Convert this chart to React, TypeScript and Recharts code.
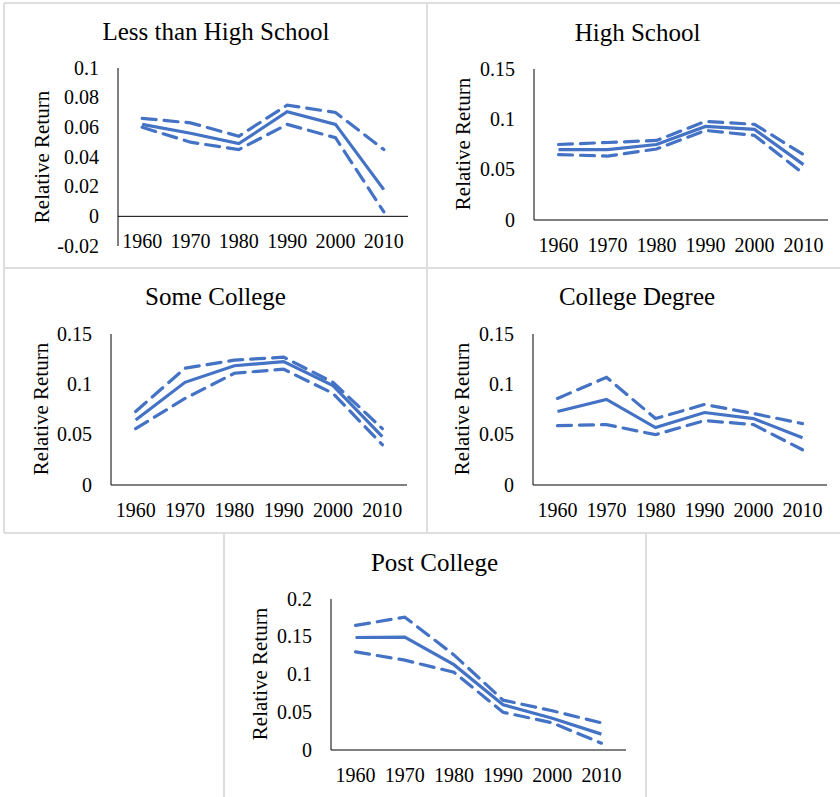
import { LineChart, Line, XAxis, YAxis, ReferenceLine } from 'recharts';

const years = ['1960', '1970', '1980', '1990', '2000', '2010'];

// Less than High School
const lhsEst = [0.062, 0.056, 0.049, 0.0705, 0.062, 0.018];
const lhsHi = [0.066, 0.063, 0.054, 0.075, 0.07, 0.045];
const lhsLo = [0.06, 0.05, 0.045, 0.062, 0.053, 0.003];

// High School
const hsEst = [0.07, 0.07, 0.075, 0.093, 0.09, 0.055];
const hsHi = [0.075, 0.077, 0.079, 0.098, 0.095, 0.065];
const hsLo = [0.065, 0.0635, 0.0705, 0.089, 0.084, 0.046];

// Some College
const scEst = [0.0646, 0.102, 0.1185, 0.1225, 0.0987, 0.048];
const scHi = [0.073, 0.116, 0.124, 0.127, 0.102, 0.056];
const scLo = [0.056, 0.086, 0.111, 0.115, 0.091, 0.04];

// College Degree
const cdEst = [0.073, 0.085, 0.057, 0.072, 0.066, 0.047];
const cdHi = [0.086, 0.107, 0.066, 0.08, 0.071, 0.061];
const cdLo = [0.059, 0.06, 0.05, 0.064, 0.06, 0.035];

// Post College
const pcEst = [0.149, 0.1496, 0.113, 0.06, 0.042, 0.021];
const pcHi = [0.165, 0.176, 0.126, 0.066, 0.052, 0.036];
const pcLo = [0.13, 0.119, 0.103, 0.05, 0.036, 0.009];

const ticksA = [-0.02, 0, 0.02, 0.04, 0.06, 0.08, 0.1];
const ticksB = [0, 0.05, 0.1, 0.15];
const ticksC = [0, 0.05, 0.1, 0.15, 0.2];

const FONT = '"Liberation Serif", "Times New Roman", serif';
const BLUE = '#4472C4';
const LINE_W = 3.2;
const DASH = '14 8';
const Y_W = 40;
const X_H = 10;
const textStyle = { fontSize: 20, fontFamily: FONT };

type Panel = {
  title: string;
  est: number[];
  hi: number[];
  lo: number[];
  domain: [number, number];
  ticks: number[];
  cell: [number, number, number, number];
  plot: [number, number, number, number]; // left, right, top, bottom
  titlePos: [number, number];
  labelPos: [number, number];
  tickDy: number;
  zeroLine?: boolean;
};

const panels: Panel[] = [
  {
    title: 'Less than High School', est: lhsEst, hi: lhsHi, lo: lhsLo,
    domain: [-0.02, 0.1], ticks: ticksA,
    cell: [4, 3, 423, 265], plot: [118, 408, 68, 246],
    titlePos: [216, 40], labelPos: [42, 157], tickDy: 2, zeroLine: true,
  },
  {
    title: 'High School', est: hsEst, hi: hsHi, lo: hsLo,
    domain: [0, 0.15], ticks: ticksB,
    cell: [427, 3, 413, 265], plot: [534, 828, 69, 220],
    titlePos: [637.5, 41], labelPos: [463, 144], tickDy: 32,
  },
  {
    title: 'Some College', est: scEst, hi: scHi, lo: scLo,
    domain: [0, 0.15], ticks: ticksB,
    cell: [4, 268, 423, 265], plot: [111, 407, 334, 485],
    titlePos: [215.5, 305], labelPos: [41, 409], tickDy: 32,
  },
  {
    title: 'College Degree', est: cdEst, hi: cdHi, lo: cdLo,
    domain: [0, 0.15], ticks: ticksB,
    cell: [427, 268, 413, 265], plot: [533, 827, 334, 485],
    titlePos: [637, 305], labelPos: [462, 409], tickDy: 32,
  },
  {
    title: 'Post College', est: pcEst, hi: pcHi, lo: pcLo,
    domain: [0, 0.2], ticks: ticksC,
    cell: [224, 533, 422, 264], plot: [331, 626, 599, 750],
    titlePos: [434.5, 571], labelPos: [260, 674], tickDy: 32,
  },
];

const Cell = ({ p }: { p: Panel }) => {
  const [cx, cy, cw, ch] = p.cell;
  const [pl, pr, pt, pb] = p.plot;
  const data = years.map((year, i) => ({ year, est: p.est[i], hi: p.hi[i], lo: p.lo[i] }));
  const pad = (pr - pl) / 12;
  const margin = {
    top: pt - cy,
    left: pl - cx - Y_W,
    right: cx + cw - pr,
    bottom: cy + ch - pb - X_H,
  };
  const xTick = (props: any) => (
    <text x={props.x} y={props.y + p.tickDy} textAnchor="middle" fill="#000" style={textStyle}>
      {props.payload.value}
    </text>
  );
  const yTick = (props: any) => (
    <text x={props.x} y={props.y + 6.6} textAnchor="end" fill="#000" style={textStyle}>
      {props.payload.value}
    </text>
  );
  return (
    <div style={{ position: 'absolute', left: cx, top: cy, width: cw, height: ch }}>
      <svg width={cw} height={ch} style={{ position: 'absolute', left: 0, top: 0 }}>
        <text x={p.titlePos[0] - cx} y={p.titlePos[1] - cy} textAnchor="middle" fill="#000" style={{ fontSize: 25, fontFamily: FONT }}>
          {p.title}
        </text>
        <text
          transform={`translate(${p.labelPos[0] - cx},${p.labelPos[1] - cy}) rotate(-90)`}
          textAnchor="middle"
          dominantBaseline="central"
          fill="#000"
          style={{ fontSize: 21, fontFamily: FONT }}
        >
          Relative Return
        </text>
      </svg>
      <div style={{ position: 'absolute', left: 0, top: 0 }}>
        <LineChart width={cw} height={ch} data={data} margin={margin}>
          <XAxis
            dataKey="year"
            height={X_H}
            padding={{ left: pad, right: pad }}
            tickLine={false}
            tickSize={0}
            tickMargin={0}
            axisLine={p.zeroLine ? false : { stroke: '#000', strokeWidth: 1 }}
            tick={xTick}
            interval={0}
          />
          <YAxis
            type="number"
            width={Y_W}
            domain={p.domain}
            ticks={p.ticks}
            allowDataOverflow
            tickLine={false}
            tickSize={0}
            tickMargin={19}
            axisLine={{ stroke: '#000', strokeWidth: 1 }}
            tick={yTick}
            interval={0}
          />
          {p.zeroLine && <ReferenceLine y={0} stroke="#000" strokeWidth={1} />}
          <Line type="linear" dataKey="hi" stroke={BLUE} strokeWidth={LINE_W} strokeDasharray={DASH} strokeLinecap="round" dot={false} isAnimationActive={false} />
          <Line type="linear" dataKey="est" stroke={BLUE} strokeWidth={LINE_W} dot={false} isAnimationActive={false} />
          <Line type="linear" dataKey="lo" stroke={BLUE} strokeWidth={LINE_W} strokeDasharray={DASH} strokeLinecap="round" dot={false} isAnimationActive={false} />
        </LineChart>
      </div>
    </div>
  );
};

const GRID = '#dedede';
const hLine = (y: number, x1: number, x2: number) => (
  <div key={`h${y}-${x1}`} style={{ position: 'absolute', left: x1, top: y - 1, width: x2 - x1, height: 2, background: GRID }} />
);
const vLine = (x: number, y1: number, y2: number) => (
  <div key={`v${x}-${y1}`} style={{ position: 'absolute', left: x - 1, top: y1, width: 2, height: y2 - y1, background: GRID }} />
);

export default function App() {
  return (
    <div style={{ position: 'absolute', left: 0, top: 0, width: 840, height: 797, background: '#fff', overflow: 'hidden' }}>
      {hLine(3, 4, 840)}
      {hLine(268, 4, 840)}
      {hLine(533, 4, 840)}
      {vLine(4, 3, 533)}
      {vLine(427, 3, 533)}
      {vLine(224, 533, 797)}
      {vLine(646, 533, 797)}
      {panels.map((p) => (
        <Cell key={p.title} p={p} />
      ))}
    </div>
  );
}
